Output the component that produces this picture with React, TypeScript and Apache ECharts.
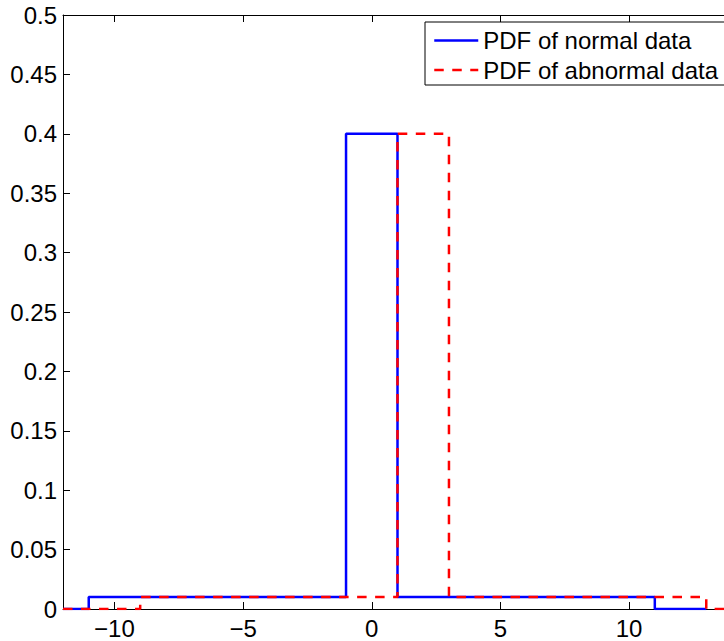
import React, { useEffect, useRef } from "react";
import * as echarts from "echarts";

const seriesNames = ["PDF of normal data", "PDF of abnormal data"];
const normalEdges = [-12, -11, -1, 1, 11, 13];
const normalHeights = [0, 0.01, 0.4, 0.01, 0];
const abnormalEdges = [-12, -9, 1, 3, 13, 14];
const abnormalHeights = [0, 0.01, 0.4, 0.01, 0];
const xMin = -12;
const xMax = 14;
const yMin = 0;
const yMax = 0.5;
const yStep = 0.05;

function stepPoints(edges: number[], heights: number[]): number[][] {
  const pts: number[][] = [];
  for (let i = 0; i < heights.length; i++) {
    pts.push([edges[i], heights[i]]);
    pts.push([edges[i + 1], heights[i]]);
  }
  return pts;
}

const FONT = "'Liberation Sans', Arial, Helvetica, sans-serif";

export default function App() {
  const ref = useRef<HTMLDivElement>(null);
  useEffect(() => {
    if (!ref.current) return;
    const chart = echarts.init(ref.current, undefined, { renderer: "svg" });
    const fmtX = (v: number) => {
      if (Math.abs(v % 5) > 1e-9) return "";
      return v < 0 ? "\u2212" + String(Math.abs(v)) : String(v);
    };
    const axisCommon = {
      type: "value" as const,
      axisLine: { show: true, onZero: false, lineStyle: { color: "#000", width: 1 } },
      axisTick: { show: true, inside: true, length: 7, lineStyle: { color: "#000" } },
      splitLine: { show: false },
    };
    chart.setOption({
      animation: false,
      backgroundColor: "#fff",
      textStyle: { fontFamily: FONT },
      grid: { left: 63, top: 15, right: 8, bottom: 32, containLabel: false },
      xAxis: [
        {
          ...axisCommon,
          position: "bottom",
          min: xMin,
          max: xMax,
          axisLabel: {
            show: true,
            formatter: fmtX,
            fontSize: 24,
            color: "#000",
            fontFamily: FONT,
            margin: 7,
            showMinLabel: false,
            showMaxLabel: false,
          },
        },
        {
          ...axisCommon,
          position: "top",
          min: xMin,
          max: xMax,
          axisLabel: { show: false },
        },
      ],
      yAxis: [
        {
          ...axisCommon,
          position: "left",
          min: yMin,
          max: yMax,
          interval: yStep,
          axisLabel: {
            show: true,
            formatter: (v: number) => String(+v.toFixed(2)),
            fontSize: 24,
            color: "#000",
            fontFamily: FONT,
            margin: 6,
          },
        },
      ],
      legend: {
        show: true,
        orient: "vertical",
        left: 425,
        top: 22,
        padding: [6.5, 24, 3, 8],
        itemGap: 5.5,
        itemWidth: 44,
        itemHeight: 14,
        borderColor: "#000",
        borderWidth: 1,
        borderRadius: 0,
        backgroundColor: "#fff",
        itemStyle: { opacity: 0 },
        lineStyle: { width: 2.5 },
        data: seriesNames,
        textStyle: { fontSize: 24, color: "#000", fontFamily: FONT },
      },
      series: [
        {
          name: seriesNames[0],
          type: "line",
          data: stepPoints(normalEdges, normalHeights),
          symbol: "none",
          showSymbol: false,
          lineStyle: { color: "#0000ff", width: 2.5, type: "solid" },
          itemStyle: { color: "#0000ff" },
          z: 2,
        },
        {
          name: seriesNames[1],
          type: "line",
          data: stepPoints(abnormalEdges, abnormalHeights),
          symbol: "none",
          showSymbol: false,
          lineStyle: { color: "#ff0000", width: 2.5, type: [9.5, 8.5] },
          itemStyle: { color: "#ff0000" },
          z: 3,
        },
      ],
    });
    return () => chart.dispose();
  }, []);
  return (
    <div style={{ position: "absolute", left: 0, top: 0, width: 724, height: 641, overflow: "hidden", background: "#fff" }}>
      <div ref={ref} style={{ position: "absolute", left: 0, top: 0, width: 740, height: 641 }} />
    </div>
  );
}
